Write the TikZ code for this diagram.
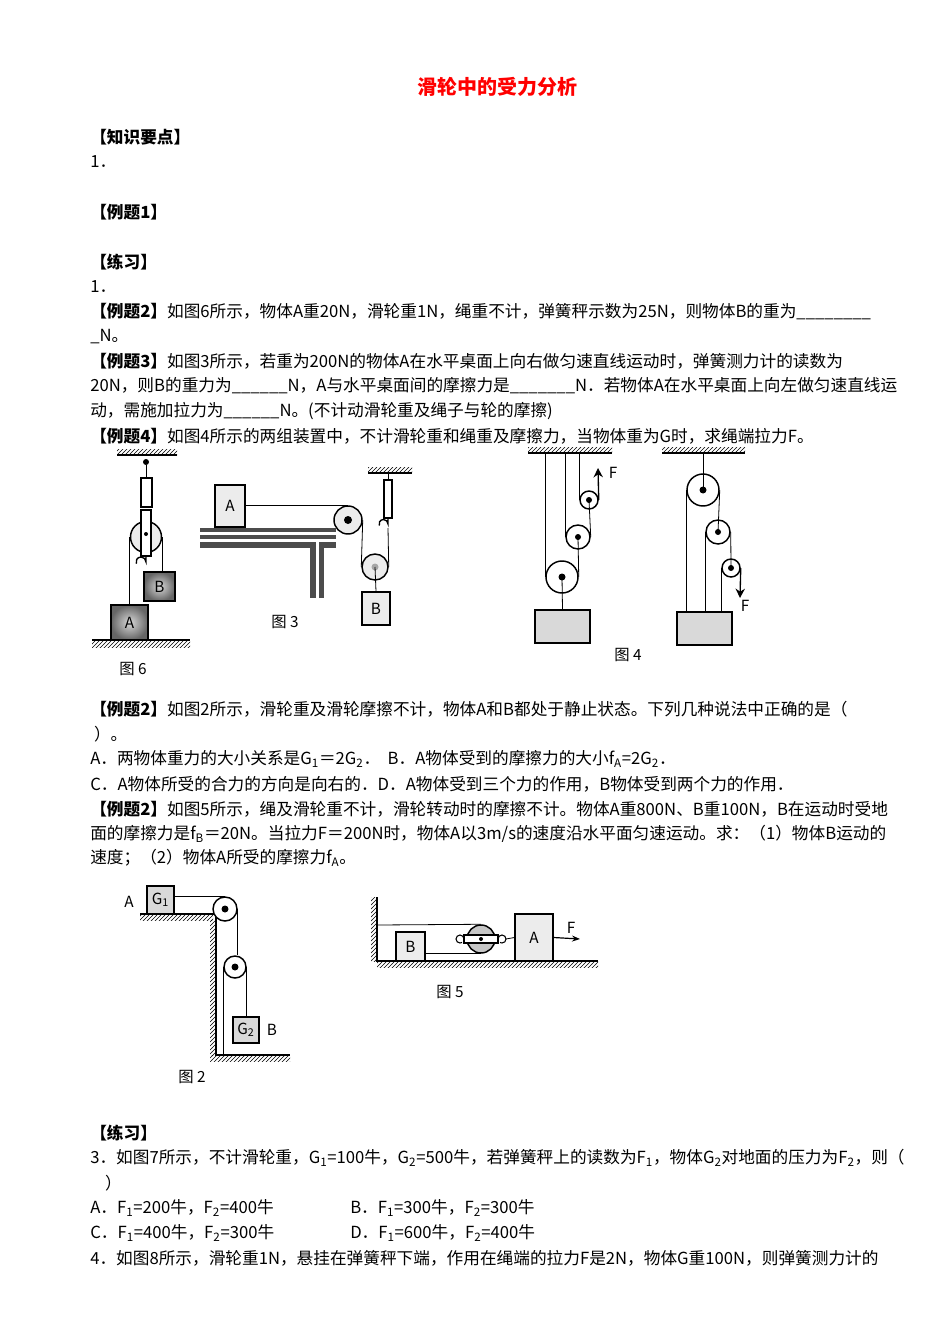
\documentclass[tikz,border=0pt]{standalone}
\usepackage{fontspec}
\setmainfont{Noto Sans CJK SC}
\usetikzlibrary{patterns,arrows.meta}
\begin{document}
\begin{tikzpicture}[x=0.75pt,y=-0.75pt,
  txt/.style={anchor=west,inner sep=0pt,font=\fontsize{12.5}{14}\selectfont},
  bold/.style={txt,font=\fontsize{12.5}{14}\selectfont\bfseries},
  lbl/.style={inner sep=0pt,font=\fontsize{11.5}{13}\selectfont},
  rope/.style={line width=0.6pt},
  wheel/.style={circle,draw,line width=1.1pt,fill=gray!15,inner sep=0pt},
  box/.style={draw,line width=0.9pt,fill=gray!30},
  darkbox/.style={draw,line width=0.9pt,inner color=gray!30,outer color=gray!80!black},
  sz/.style 2 args={minimum width={#1*0.75pt},minimum height={#2*0.75pt}},
  dia/.style={minimum size={#1*0.75pt}},
  hatch/.style={pattern=north east lines,draw=none}]
\useasboundingbox[fill=white] (0,0) rectangle (950,1344);
\node[lbl,text=red,font=\fontsize{15}{18}\selectfont\bfseries] (title) at (497,87) {滑轮中的受力分析};
\node[bold] (l1) at (90,137) {【知识要点】};
\node[txt] (l2) at (90,162) {1．};
\node[bold] (l3) at (90,212) {【例题1】};
\node[bold] (l4) at (90,262) {【练习】};
\node[txt] (l5) at (90,287) {1．};
\node[txt] (l6) at (90,312) {\textbf{【例题2】}如图6所示，物体A重20N，滑轮重1N，绳重不计，弹簧秤示数为25N，则物体B的重为\_\_\_\_\_\_\_\_};
\node[txt] (l7) at (90,337) {\_N。};
\node[txt] (l8) at (90,361) {\textbf{【例题3】}如图3所示，若重为200N的物体A在水平桌面上向右做匀速直线运动时，弹簧测力计的读数为};
\node[txt] (l9) at (90,386) {20N，则B的重力为\_\_\_\_\_\_N，A与水平桌面间的摩擦力是\_\_\_\_\_\_\_N．若物体A在水平桌面上向左做匀速直线运};
\node[txt] (l10) at (90,411) {动，需施加拉力为\_\_\_\_\_\_N。(不计动滑轮重及绳子与轮的摩擦)};
\node[txt] (l11) at (90,436) {\textbf{【例题4】}如图4所示的两组装置中，不计滑轮重和绳重及摩擦力，当物体重为G时，求绳端拉力F。};
\node[txt] (l12) at (90,709) {\textbf{【例题2】}如图2所示，滑轮重及滑轮摩擦不计，物体A和B都处于静止状态。下列几种说法中正确的是（};
\node[txt] (l13) at (90,734) {\ ）。};
\node[txt] (l14) at (90,759) {A．两物体重力的大小关系是G\textsubscript{1}＝2G\textsubscript{2}．\ \ B．A物体受到的摩擦力的大小f\textsubscript{A}=2G\textsubscript{2}．};
\node[txt] (l15) at (90,784) {C．A物体所受的合力的方向是向右的．D．A物体受到三个力的作用，B物体受到两个力的作用．};
\node[txt] (l16) at (90,809) {\textbf{【例题2】}如图5所示，绳及滑轮重不计，滑轮转动时的摩擦不计。物体A重800N、B重100N，B在运动时受地};
\node[txt] (l17) at (90,834) {面的摩擦力是f\textsubscript{B}＝20N。当拉力F＝200N时，物体A以3m/s的速度沿水平面匀速运动。求：（1）物体B运动的};
\node[txt] (l18) at (90,858) {速度；（2）物体A所受的摩擦力f\textsubscript{A}。};
\node[bold] (l19) at (90,1133) {【练习】};
\node[txt] (l20) at (90,1158) {3．如图7所示，不计滑轮重，G\textsubscript{1}=100牛，G\textsubscript{2}=500牛，若弹簧秤上的读数为F\textsubscript{1}，物体G\textsubscript{2}对地面的压力为F\textsubscript{2}，则（};
\node[txt] (l21) at (90,1183) {\ \ \ \ ）};
\node[txt] (l22) at (90,1208) {A．F\textsubscript{1}=200牛，F\textsubscript{2}=400牛};
\node[txt] (l23) at (350,1208) {B．F\textsubscript{1}=300牛，F\textsubscript{2}=300牛};
\node[txt] (l24) at (90,1233) {C．F\textsubscript{1}=400牛，F\textsubscript{2}=300牛};
\node[txt] (l25) at (350,1233) {D．F\textsubscript{1}=600牛，F\textsubscript{2}=400牛};
\node[txt] (l26) at (90,1258) {4．如图8所示，滑轮重1N，悬挂在弹簧秤下端，作用在绳端的拉力F是2N，物体G重100N，则弹簧测力计的};

% ---------- Fig 6
\fill[hatch] (117,449) rectangle (177,455);
\draw[line width=1pt] (117,455) -- (177,455);
\fill (146,462) circle (3);
\draw[rope] (146,465) -- (146,478);
\draw[line width=1pt,fill=white] (141,478) rectangle (152,507);
\node[wheel,dia=31] (p6) at (146,537) {};
\draw[line width=0.9pt,fill=white] (141,510) rectangle (151,556);
\fill (146,534) circle (2);
\draw[line width=1pt] (146,556) -- (146,562) arc (0:-200:5);
\node[darkbox,sz={31}{29},lbl] (B6) at (159.5,586.5) {B};
\node[darkbox,sz={37}{35},lbl] (A6) at (129.5,622.5) {A};
\draw[rope] (p6.west) -- (A6.north -| p6.west);
\draw[rope] (p6.east) -- (B6.north -| p6.east);
\fill[hatch] (92,640) rectangle (190,647);
\draw[line width=1pt] (92,640) -- (190,640);
\node[lbl] (c6) at (133,669) {图 6};

% ---------- Fig 3
\node[box,fill=gray!15,sz={30}{42},lbl] (A3) at (230,506) {A};
\fill[gray!60!black] (200,528) rectangle (336,548);
\fill[white] (200,532) rectangle (336,535);
\fill[white] (200,539) rectangle (336,542);
\fill[gray!60!black] (310,548) rectangle (324,598);
\fill[white] (315.5,542) rectangle (318.5,598);
\node[wheel,dia=28] (p3a) at (348,520) {};
\fill (348,520) circle (4);
\node[wheel,dia=26] (p3b) at (375,567) {};
\fill[gray!70] (375,567) circle (3.5);
\fill[hatch] (368,467) rectangle (412,473);
\draw[line width=1pt] (368,473) -- (412,473);
\draw[rope] (388,473) -- (388,480);
\draw[line width=1pt,fill=white] (384,480) rectangle (392,518);
\draw[line width=1pt] (388,518) -- (388,524) arc (0:-200:4.5);
\node[box,fill=gray!15,sz={28}{33},lbl] (B3) at (376,608.5) {B};
\draw[rope] (A3.east |- p3a.north) -- (p3a.north);
\draw[rope] (p3a.east) -- (p3b.west);
\draw[rope] (p3b.east) -- (388,528);
\draw[rope] (p3b.center) -- (B3.north);
\node[lbl] (c3) at (285,622) {图 3};

% ---------- Fig 4 left
\fill[hatch] (528,447) rectangle (612,453);
\draw[line width=1pt] (528,453) -- (612,453);
\node[wheel,fill=white,dia=32] (q1) at (562,577) {};
\node[wheel,fill=white,dia=24] (q2) at (578,537) {};
\node[wheel,fill=white,dia=18] (q3) at (589,500) {};
\foreach \p/\r in {q1/3.5,q2/3,q3/3}{\fill (\p) circle (\r);}
\node[box,sz={55}{33}] (W1) at (562.5,626.5) {};
\draw[rope] (q1.west) -- (q1.west |- 0,453);
\draw[rope] (q1.east) -- (q2.center);
\draw[rope] (q2.west) -- (q2.west |- 0,453);
\draw[rope] (q2.east) -- (q3.center);
\draw[rope] (q3.west) -- (q3.west |- 0,453);
\draw[line width=1pt,-{Stealth[length=7pt,width=7pt]}] (q3.east) -- (598,468);
\draw[rope] (q1.center) -- (W1.north);
\node[lbl] (F1) at (613,473) {F};

% ---------- Fig 4 right
\fill[hatch] (662,447) rectangle (745,453);
\draw[line width=1pt] (662,453) -- (745,453);
\node[wheel,fill=white,dia=32] (r1) at (703,490) {};
\node[wheel,fill=white,dia=24] (r2) at (718,532) {};
\node[wheel,fill=white,dia=18] (r3) at (731,568) {};
\foreach \p/\r in {r1/3.5,r2/3,r3/3}{\fill (\p) circle (\r);}
\node[box,sz={55}{33}] (W2) at (704.5,628.5) {};
\draw[rope] (r1.center) -- (703,453);
\draw[rope] (r1.west) -- (r1.west |- W2.north);
\draw[rope] (r1.east) -- (r2.center);
\draw[rope] (r2.west) -- (r2.west |- W2.north);
\draw[rope] (r2.east) -- (r3.center);
\draw[rope] (r3.west) -- (r3.west |- W2.north);
\draw[line width=1pt,-{Stealth[length=7pt,width=7pt]}] (r3.east) -- (740,598);
\node[lbl] (F2) at (745,606) {F};
\node[lbl] (c4) at (628,655) {图 4};

% ---------- Fig 2
\node[lbl] (Alab) at (129,902) {A};
\node[box,sz={27}{28},lbl] (G1) at (160.5,900) {G\textsubscript{1}};
\fill[hatch] (140,914) rectangle (213,920);
\draw[line width=1pt] (140,914) -- (216,914) -- (216,1055) -- (290,1055);
\fill[hatch] (210,920) rectangle (216,1055);
\fill[hatch] (210,1055) rectangle (290,1061);
\node[wheel,fill=white,dia=24] (s1) at (225,909) {};
\node[wheel,fill=white,dia=22] (s2) at (235,967) {};
\fill (s1) circle (3.5); \fill (s2) circle (3.5);
\node[box,sz={26}{26},lbl] (G2) at (246,1030) {G\textsubscript{2}};
\node[lbl] (Blab) at (272,1030) {B};
\draw[rope] (G1.east |- s1.north) -- (s1.north);
\draw[rope] (s1.east) -- (s2.north -| s1.east);
\draw[rope] (s2.west) -- (s2.west |- 0,1055);
\draw[rope] (s2.east) -- (G2.north -| s2.east);
\node[lbl] (c2) at (192,1077) {图 2};

% ---------- Fig 5
\fill[hatch] (371,897) rectangle (377,961);
\fill[hatch] (377,961) rectangle (598,967);
\draw[line width=1pt] (377,897) -- (377,961) -- (598,961);
\node[box,fill=gray!15,sz={29}{29},lbl] (B5) at (410.5,946.5) {B};
\node[box,fill=gray!15,sz={38}{47},lbl] (A5) at (534,937.5) {A};
\node[wheel,fill=gray!45,dia=28] (p5) at (481,939) {};
\draw[line width=0.8pt,fill=white] (464,935) rectangle (498,943);
\fill (481,939) circle (2);
\draw[line width=0.8pt] (464,939) arc (0:-300:4);
\draw[line width=0.8pt] (498,939) arc (180:480:4);
\draw[rope] (377,925) -- (p5.north);
\draw[rope] (B5.east |- p5.south) -- (p5.south);
\draw[rope] (506,939) -- (A5.west);
\draw[line width=0.9pt,-{Stealth[length=6pt]}] (A5.east) -- (580,939);
\node[lbl] (F5) at (571,928) {F};
\node[lbl] (c5) at (450,992) {图 5};
\end{tikzpicture}
\end{document}
